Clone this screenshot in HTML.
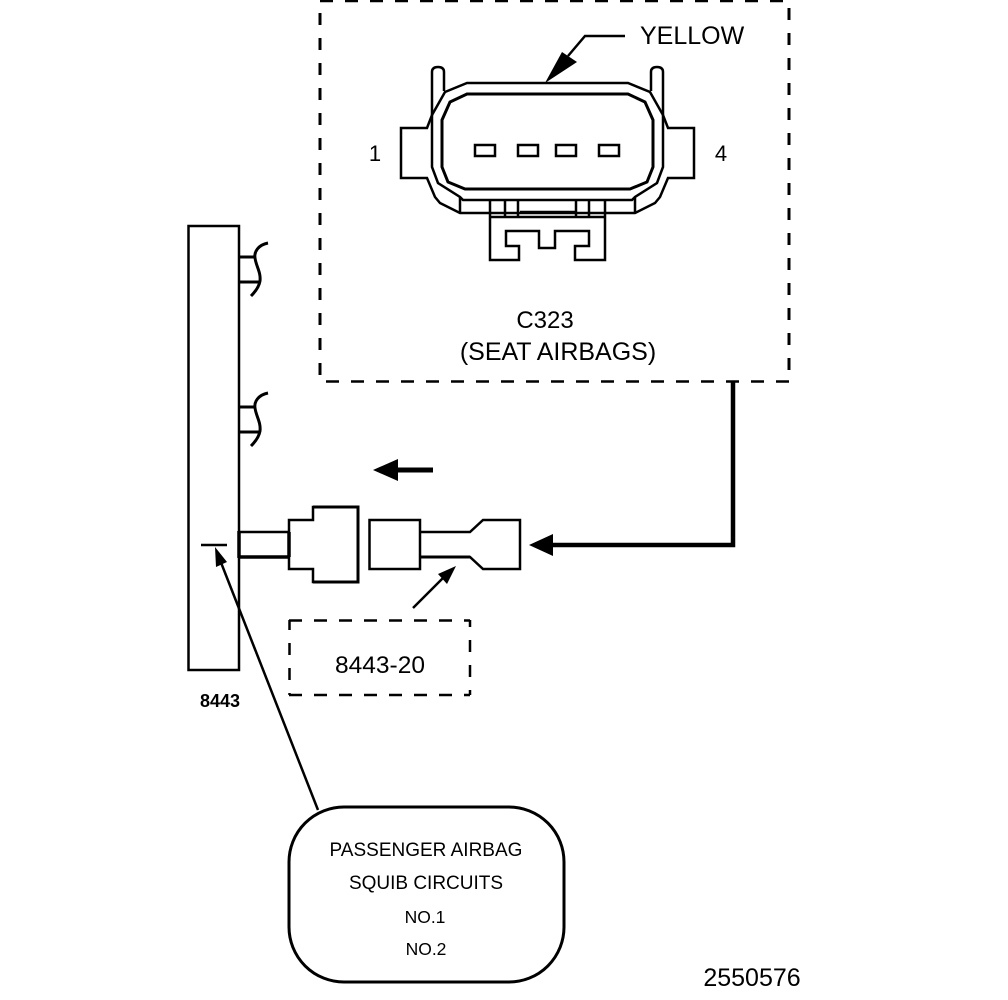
<!DOCTYPE html>
<html>
<head>
<meta charset="utf-8">
<style>
html,body{margin:0;padding:0;background:#fff;width:1008px;height:1000px;overflow:hidden}
svg{display:block}
text{font-family:"Liberation Sans",sans-serif;fill:#000;stroke:none}
</style>
</head>
<body>
<svg width="1008" height="1000" viewBox="0 0 1008 1000" xmlns="http://www.w3.org/2000/svg">
<rect width="1008" height="1000" fill="#fff"/>
<g fill="none" stroke="#000" stroke-width="2.500">
  <!-- main dashed box -->
  <path d="M320 1H790" stroke-dasharray="13 12"/>
  <path d="M320 381.500H790" stroke-dasharray="13 12" stroke-dashoffset="-6"/>
  <path d="M320 0V381" stroke-width="3" stroke-dasharray="12 13" stroke-dashoffset="-13"/>
  <path d="M789 0V381" stroke-width="3" stroke-dasharray="12 13" stroke-dashoffset="-8"/>

  <!-- connector C323: outer contour with tabs -->
  <path d="M445 92L467 83H628L650 92L663 115L668 128H694V178H668L660 197L655 203L635 213H460L440 203L435 197L427 178H401V128H427L432 115Z"/>
  <!-- latch posts -->
  <path d="M444 91V72Q444 67 438 67Q432 67 432 72V115V167L438 183L460 197L463 200H632L635 197L657 183L663 167V115V72Q663 67 657 67Q651 67 651 72V91"/>
  <!-- inner shell -->
  <path d="M467 94H628L645 102L653 120V167L647 182L630 189H465L448 182L442 167V120L450 102Z" stroke-width="3"/>
  <path d="M460 197V213M635 197V213"/>
  <rect x="475" y="145" width="20" height="11"/>
  <rect x="518" y="145" width="20" height="11"/>
  <rect x="556" y="145" width="20" height="11"/>
  <rect x="599" y="145" width="20" height="11"/>
  <path d="M490 200V260H519V246H506V231H539V248H555V231H589V246H575V260H605V200"/>
  <path d="M490 217H605M505 200V217M518 200V217M576 200V217M589 200V217M520 212H575"/>

  <!-- YELLOW leader -->
  <path d="M568 56L585 36H625"/>

  <!-- thick route -->
  <path d="M733 381V545H552" stroke-width="4.500"/>
  <!-- left arrow shaft -->
  <path d="M396 470H433" stroke-width="5"/>

  <!-- module -->
  <rect x="188.500" y="226" width="50.500" height="444"/>
  <path d="M239 257H255M239 282H260" stroke-width="3"/>
  <path d="M268 243C258 245 254 252 255 258C256 266 261 272 260 281C259 287 255 292 251 296" stroke-width="3"/>
  <path d="M239 407H255M239 432H260" stroke-width="3"/>
  <path d="M268 393C258 395 254 402 255 408C256 416 261 422 260 431C259 437 255 442 251 446" stroke-width="3"/>

  <!-- inline connector -->
  <path d="M239 532H289"/>
  <path d="M239 557H289" stroke-width="3.500"/>
  <path d="M239 531V558" stroke-width="3.500"/>
  <path d="M289 532V557" stroke-width="3.500"/>
  <path d="M289 532V520H313V507H358V582H313V569H289V557"/>
  <path d="M313 507H358V582H313" stroke-width="3"/>
  <rect x="369.500" y="520" width="50.500" height="49"/>
  <path d="M420 532H470L483 520H520V569H483L470 557H420"/>
  <path d="M420 557H470" stroke-width="3"/>

  <!-- small arrow -->
  <path d="M413 608L445 576"/>

  <!-- small dashed box -->
  <path d="M289 620.500H470M289 695H470" stroke-dasharray="13 12"/>
  <path d="M289.500 620V695" stroke-dasharray="12 13" stroke-dashoffset="-23"/>
  <path d="M470 620V695" stroke-dasharray="12 13" stroke-dashoffset="-20"/>

  <!-- long leader -->
  <path d="M201 545H227"/>
  <path d="M318 810L220 560" stroke-width="2.500"/>

  <!-- rounded box -->
  <rect x="289" y="807" width="275" height="175" rx="55" ry="55" stroke-width="3"/>
</g>
<g fill="#000" stroke="none">
  <polygon points="545,83 562,52 577,62"/>
  <polygon points="529,545 553,534 553,556"/>
  <polygon points="373,470 398,459 398,481"/>
  <polygon points="456,566 438,574 447,584"/>
  <polygon points="215,547 216,567 227,562"/>
</g>
<text x="640" y="44" font-size="25">YELLOW</text>
<text x="375" y="161" font-size="22" text-anchor="middle">1</text>
<text x="721" y="161" font-size="22" text-anchor="middle">4</text>
<text x="545" y="328" font-size="24" text-anchor="middle">C323</text>
<text x="558" y="360" font-size="25" text-anchor="middle">(SEAT AIRBAGS)</text>
<text x="380" y="673" font-size="24.500" text-anchor="middle">8443-20</text>
<text x="220" y="707" font-size="18" font-weight="bold" text-anchor="middle">8443</text>
<text x="426" y="856" font-size="19" text-anchor="middle">PASSENGER AIRBAG</text>
<text x="426" y="889" font-size="19" text-anchor="middle">SQUIB CIRCUITS</text>
<text x="425" y="923" font-size="17.500" text-anchor="middle">NO.1</text>
<text x="426" y="955" font-size="17.500" text-anchor="middle">NO.2</text>
<text x="752" y="986" font-size="25" text-anchor="middle">2550576</text>
</svg>
</body>
</html>
